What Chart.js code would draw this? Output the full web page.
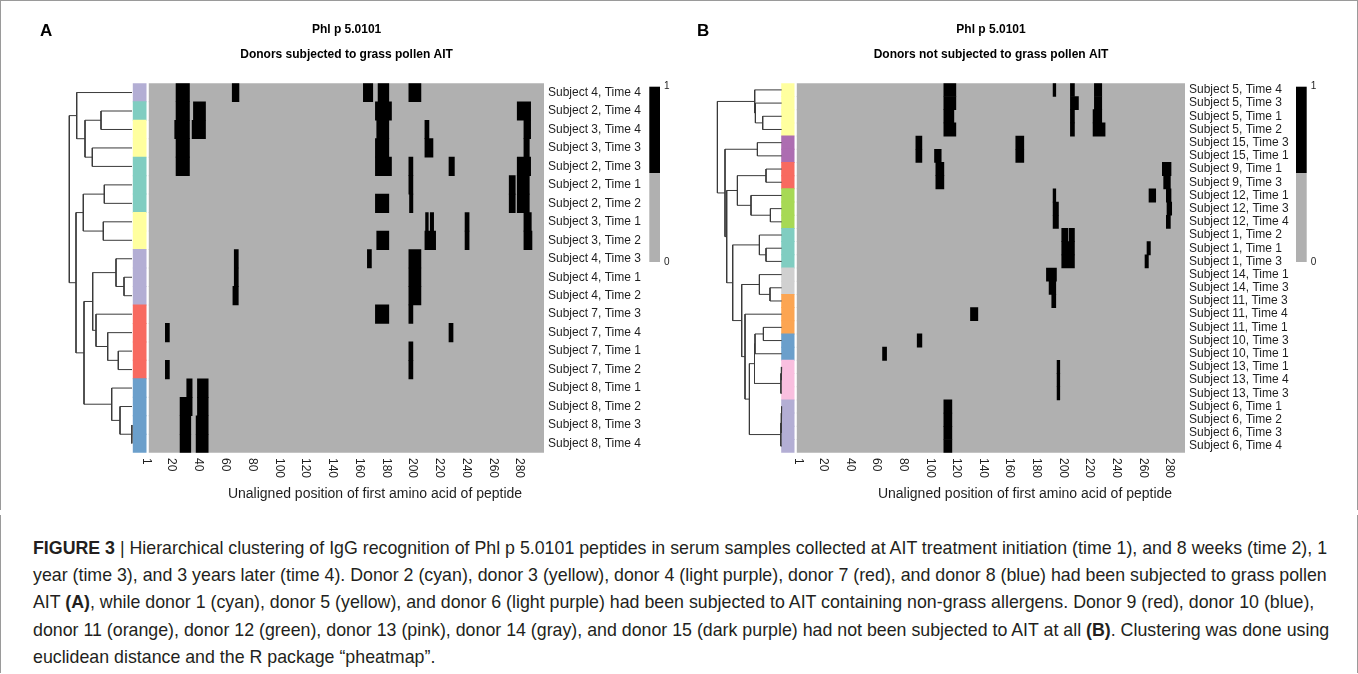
<!DOCTYPE html>
<html>
<head>
<meta charset="utf-8">
<script src="https://cdn.jsdelivr.net/npm/chart.js@4.4.1/dist/chart.umd.min.js"></script>
<style>
html,body{margin:0;padding:0;background:#fff;}
body{width:1358px;height:674px;position:relative;overflow:hidden;font-family:"Liberation Sans",Arial,Helvetica,sans-serif;}
canvas{position:absolute;top:0;}
#ca{left:0;}
#cb{left:679px;}
.frame{position:absolute;border:1px solid #9a9a9a;}
#caption{position:absolute;left:33px;top:535px;font-size:17.8px;line-height:27.2px;color:#231f20;white-space:nowrap;}
#caption b{font-weight:bold;}
</style>
</head>
<body>
<div class="frame" style="left:0;top:0;width:1356px;height:509px;border-bottom:none;"></div>
<div class="frame" style="left:0;top:515px;width:1356px;height:158px;border-top:none;border-bottom:none;"></div>
<canvas id="ca" width="679" height="512"></canvas>
<canvas id="cb" width="679" height="512"></canvas>
<div id="caption">
<div><b>FIGURE 3</b> | Hierarchical clustering of IgG recognition of Phl p 5.0101 peptides in serum samples collected at AIT treatment initiation (time 1), and 8 weeks (time 2), 1</div>
<div>year (time 3), and 3 years later (time 4). Donor 2 (cyan), donor 3 (yellow), donor 4 (light purple), donor 7 (red), and donor 8 (blue) had been subjected to grass pollen</div>
<div>AIT <b>(A)</b>, while donor 1 (cyan), donor 5 (yellow), and donor 6 (light purple) had been subjected to AIT containing non-grass allergens. Donor 9 (red), donor 10 (blue),</div>
<div>donor 11 (orange), donor 12 (green), donor 13 (pink), donor 14 (gray), and donor 15 (dark purple) had not been subjected to AIT at all <b>(B)</b>. Clustering was done using</div>
<div>euclidean distance and the R package “pheatmap”.</div>
</div>
<script>
// ---------------- data ----------------
const positionTicks = [1, 20, 40, 60, 80, 100, 120, 140, 160, 180, 200, 220, 240, 260, 280];
const legendLabels = ["1", "0"];

const donorColors = {
  1: "#80cdc1", 2: "#80cdc1", 3: "#ffff9f", 4: "#b3aed4", 5: "#ffff9f", 6: "#b3aed4",
  7: "#f86a60", 8: "#6b9fcb", 9: "#f86a60", 10: "#6b9fcb", 11: "#fca552", 12: "#a7d955",
  13: "#f9bfdf", 14: "#d0d0d0", 15: "#ad6db1"
};

// Panel A: donors subjected to grass pollen AIT
const aitRows = ["Subject 4, Time 4", "Subject 2, Time 4", "Subject 3, Time 4", "Subject 3, Time 3",
  "Subject 2, Time 3", "Subject 2, Time 1", "Subject 2, Time 2", "Subject 3, Time 1", "Subject 3, Time 2",
  "Subject 4, Time 3", "Subject 4, Time 1", "Subject 4, Time 2", "Subject 7, Time 3", "Subject 7, Time 4",
  "Subject 7, Time 1", "Subject 7, Time 2", "Subject 8, Time 1", "Subject 8, Time 2", "Subject 8, Time 3",
  "Subject 8, Time 4"];
const aitDonors = [4, 2, 3, 3, 2, 2, 2, 3, 3, 4, 4, 4, 7, 7, 7, 7, 8, 8, 8, 8];
const aitPeptideCount = 295;
// recognised peptides (value 1): [row, first position, last position]
const aitCells = [
  [0, 20.5, 30.5], [0, 62.5, 67.5], [0, 160.5, 167.5], [0, 171.5, 179.5], [0, 194.5, 203.5],
  [1, 20.5, 30.5], [1, 33.5, 42.5], [1, 169.5, 181.5], [1, 275.5, 285.5],
  [2, 19.5, 30.5], [2, 32.5, 42.5], [2, 170.5, 179.5], [2, 206.5, 209.5], [2, 280.5, 285.5],
  [3, 20.5, 30.5], [3, 169.5, 179.5], [3, 206.5, 212.5], [3, 280.5, 284.5],
  [4, 20.5, 30.5], [4, 169.5, 181.5], [4, 194.5, 197.5], [4, 224.5, 228.5], [4, 275.5, 285.5],
  [5, 194.5, 197.5], [5, 269.5, 274], [5, 275.5, 284.5],
  [6, 169.5, 179.5], [6, 195, 197.5], [6, 269.5, 274], [6, 275.5, 284.5],
  [7, 207, 209], [7, 210.5, 213], [7, 236.5, 239.5], [7, 280.5, 286],
  [8, 170.5, 179.5], [8, 206.5, 214.5], [8, 236.5, 239.5], [8, 280.5, 286.5],
  [9, 64, 67], [9, 163.5, 166.5], [9, 194.5, 203.5],
  [10, 64, 67], [10, 194.5, 203.5],
  [11, 63, 67], [11, 194.5, 203.5],
  [12, 169.5, 179.5], [12, 194.5, 197.5],
  [13, 12.5, 15.5], [13, 224.5, 227.5],
  [14, 194.5, 197.5],
  [15, 12.5, 15.5], [15, 194.5, 197.5],
  [16, 28.5, 32.5], [16, 36.5, 44.5],
  [17, 23.5, 32.5], [17, 36.5, 44.5],
  [18, 23.5, 31.5], [18, 35.5, 44.5],
  [19, 23.5, 31.5], [19, 35.5, 44.5]
];
// hclust-style merges: negative = leaf (row index + 1), positive = earlier merge; third = height
const aitMerges = [
  [-19, -20, 0.3], [-11, -12, 8], [-18, 1, 12], [-15, -16, 13.7], [-10, 2, 16],
  [-17, 3, 20.3], [-14, 4, 24.3], [-6, -7, 27.7], [-8, -9, 28.7], [-2, -3, 31],
  [-13, 7, 36], [5, 11, 39.3], [-4, -5, 39.7], [10, 13, 47], [12, 6, 48],
  [8, 9, 48.7], [-1, 14, 55.3], [16, 15, 56], [17, 18, 62.7]
];

// Panel B: donors not subjected to grass pollen AIT
const noAitRows = ["Subject 5, Time 4", "Subject 5, Time 3", "Subject 5, Time 1", "Subject 5, Time 2",
  "Subject 15, Time 3", "Subject 15, Time 1", "Subject 9, Time 1", "Subject 9, Time 3", "Subject 12, Time 1",
  "Subject 12, Time 3", "Subject 12, Time 4", "Subject 1, Time 2", "Subject 1, Time 1", "Subject 1, Time 3",
  "Subject 14, Time 1", "Subject 14, Time 3", "Subject 11, Time 3", "Subject 11, Time 4", "Subject 11, Time 1",
  "Subject 10, Time 3", "Subject 10, Time 1", "Subject 13, Time 1", "Subject 13, Time 4", "Subject 13, Time 3",
  "Subject 6, Time 1", "Subject 6, Time 2", "Subject 6, Time 3", "Subject 6, Time 4"];
const noAitDonors = [5, 5, 5, 5, 15, 15, 9, 9, 12, 12, 12, 1, 1, 1, 14, 14, 11, 11, 11, 10, 10, 13, 13, 13, 6, 6, 6, 6];
const noAitPeptideCount = 291;
const noAitCells = [
  [0, 110.5, 119.5], [0, 192.5, 194.5], [0, 205.5, 208.5], [0, 223.5, 229],
  [1, 110.5, 119.5], [1, 205.5, 211.5], [1, 223.5, 229],
  [2, 110.5, 118], [2, 205.5, 208.5], [2, 222.5, 229],
  [3, 110.5, 119.5], [3, 205.5, 208.5], [3, 222.5, 231.5],
  [4, 89.5, 94], [4, 164.5, 170.5],
  [5, 89.5, 94], [5, 103.5, 108.5], [5, 164.5, 170.5],
  [6, 104.5, 110.5], [6, 274.5, 281],
  [7, 104.5, 110.5], [7, 275.5, 280.5],
  [8, 192.5, 194.5], [8, 264.5, 269.5], [8, 277.5, 281],
  [9, 192.5, 196.5], [9, 278, 281.5],
  [10, 192.5, 196.5], [10, 277.5, 280.5],
  [11, 199, 203.5], [11, 204.5, 208.5],
  [12, 199, 208.5], [12, 263, 265.5],
  [13, 199, 208.5], [13, 261.5, 264],
  [14, 187.5, 195],
  [15, 189.5, 194.5],
  [16, 191.5, 194.5],
  [17, 130.5, 136],
  [19, 90.5, 94],
  [20, 64.5, 67.5],
  [21, 195.5, 197.5], [22, 195.5, 197.5], [23, 195.5, 197.5],
  [24, 110.5, 116.5], [25, 110.5, 116.5], [26, 110.5, 116.5], [27, 110.5, 116.5]
];
const noAitMerges = [
  [-25, -26, 0.3], [1, -27, 0.6], [2, -28, 0.9], [-22, -23, 0.5], [4, -24, 0.8],
  [-10, -11, 11.3], [-16, -17, 11.7], [-7, -8, 15.7], [-13, -14, 15.7], [-19, -20, 18.3],
  [-3, -4, 19], [-12, 9, 22.3], [-15, 7, 22.3], [-5, -6, 24.3], [-2, 11, 26.3],
  [10, -21, 26.7], [16, 5, 27.2], [-1, 15, 27], [-9, 6, 30.7], [17, 3, 32.3],
  [8, 19, 44.3], [-18, 20, 36.7], [13, 22, 40], [12, 23, 49], [21, 24, 55],
  [14, 25, 56.7], [18, 26, 64.3]
];

// ---------------- helpers ----------------
const FONT = '"Liberation Sans", Arial, Helvetica, sans-serif';

function dendrogramSegments(merges) {
  const ys = [], hs = [], pts = [];
  const node = r => r < 0 ? { y: -r - 1, h: 0 } : { y: ys[r - 1], h: hs[r - 1] };
  merges.forEach(([a, b, h], i) => {
    const A = node(a), B = node(b);
    pts.push({ x: A.h, y: A.y }, { x: h, y: A.y }, { x: h, y: B.y }, { x: B.h, y: B.y }, { x: null, y: null });
    ys[i] = (A.y + B.y) / 2;
    hs[i] = h;
  });
  return pts;
}

// linear scale range so that value v0 lands on pixel p0 with k px per unit, across area [L,R]
function rangeFor(p0, v0, k, L, R, reverse) {
  if (!reverse) {
    const min = v0 - (p0 - L) / k;
    return { min, max: min + (R - L) / k };
  }
  const min = v0 - (R - p0) / k;
  return { min, max: min + (R - L) / k };
}

function makePanel(canvasId, g, rows, donors, cells, merges, nPep) {
  const canvas = document.getElementById(canvasId);
  const W = canvas.width, H = canvas.height, off = g.canvasLeft;
  const L = g.areaLeft - off, R = g.heatRight - off, T = g.top, B = g.bottom;
  const heatK = (g.heatRight - g.heatLeft) / nPep;
  const xr = rangeFor(g.heatLeft - off, 0.5, heatK, L, R, false);
  const ar = rangeFor(g.annotLeft - off, 0, g.annotRight - g.annotLeft, L, R, false);
  const dr = rangeFor(g.leafX - off, 0, 1, L, R, true);

  const textPlugin = {
    id: 'panelText' + canvasId,
    afterDraw(chart) {
      const { ctx } = chart;
      const xs = chart.scales.x, ys = chart.scales.y;
      ctx.save();
      ctx.fillStyle = '#1e1e1e';
      // rotated position ticks
      ctx.font = '12px ' + FONT;
      positionTicks.forEach(t => {
        ctx.save();
        ctx.translate(xs.getPixelForValue(t) + g.tickOffset, g.tickTop);
        ctx.rotate(Math.PI / 2);
        ctx.textAlign = 'left';
        ctx.textBaseline = 'middle';
        ctx.fillText(String(t), 0, 0);
        ctx.restore();
      });
      // row labels
      ctx.textAlign = 'left';
      ctx.textBaseline = 'middle';
      rows.forEach((r, i) => ctx.fillText(r, R + g.rowGap, ys.getPixelForValue(i)));
      // axis title
      ctx.font = '14px ' + FONT;
      ctx.textAlign = 'center';
      ctx.fillText(g.xTitle, g.xTitleX - off, g.xTitleY);
      // titles
      ctx.fillStyle = '#000';
      ctx.font = 'bold 12px ' + FONT;
      ctx.fillText(g.title, g.titleX - off, g.titleY);
      ctx.fillText(g.subtitle, g.titleX - off, g.subtitleY);
      ctx.font = 'bold 17px ' + FONT;
      ctx.textAlign = 'left';
      ctx.fillText(g.letter, g.letterX - off, g.letterY);
      // legend
      const lx = g.legendX - off;
      ctx.fillStyle = '#000';
      ctx.fillRect(lx, g.legendTop, g.legendW, g.legendMid - g.legendTop);
      ctx.fillStyle = '#b0b0b0';
      ctx.fillRect(lx, g.legendMid, g.legendW, g.legendBottom - g.legendMid);
      ctx.fillStyle = '#1e1e1e';
      ctx.font = '10px ' + FONT;
      ctx.textAlign = 'left';
      ctx.fillText(legendLabels[0], lx + g.legendW + 4, g.legendTop);
      ctx.fillText(legendLabels[1], lx + g.legendW + 4, g.legendBottom);
      ctx.restore();
    }
  };

  const rowTicks = s => { s.ticks = rows.map((_, i) => ({ value: i })); };

  return new Chart(canvas.getContext('2d'), {
    type: 'bar',
    data: {
      datasets: [
        {
          type: 'line', label: 'dendrogram', data: dendrogramSegments(merges),
          xAxisID: 'xd', yAxisID: 'y', borderColor: '#3a3a3a', borderWidth: 1,
          pointRadius: 0, tension: 0, spanGaps: false, fill: false, order: 0
        },
        {
          label: 'donor', data: donors.map((d, i) => ({ y: i, x: [0, 1] })),
          backgroundColor: donors.map(d => donorColors[d]), xAxisID: 'xa', yAxisID: 'y',
          order: 3, inflateAmount: 0.5
        },
        {
          label: '0', data: rows.map((_, i) => ({ y: i, x: [0.5, nPep + 0.5] })),
          backgroundColor: '#b0b0b0', xAxisID: 'x', yAxisID: 'y', order: 2, inflateAmount: 0.5
        },
        {
          label: '1', data: cells.map(([r, s, e]) => ({ y: r, x: [s, e] })),
          backgroundColor: '#000000', xAxisID: 'x', yAxisID: 'y', order: 1, inflateAmount: 0.35
        }
      ]
    },
    options: {
      indexAxis: 'y',
      responsive: false,
      animation: false,
      events: [],
      layout: { padding: { left: L, right: W - R, top: T, bottom: H - B }, autoPadding: false },
      plugins: { legend: { display: false }, tooltip: { enabled: false }, title: { display: false } },
      datasets: { bar: { grouped: false, barPercentage: 1, categoryPercentage: 1, borderWidth: 0 } },
      scales: {
        y: { type: 'linear', offset: false, min: -0.5, max: rows.length - 0.5, reverse: true, display: false, afterBuildTicks: rowTicks },
        x: { type: 'linear', offset: false, min: xr.min, max: xr.max, display: false },
        xa: { type: 'linear', offset: false, min: ar.min, max: ar.max, display: false },
        xd: { type: 'linear', offset: false, min: dr.min, max: dr.max, reverse: true, display: false }
      }
    },
    plugins: [textPlugin]
  });
}

const geomA = {
  canvasLeft: 0, areaLeft: 60, top: 83.3, bottom: 452.7,
  leafX: 132, annotLeft: 133.3, annotRight: 146, heatLeft: 149.3, heatRight: 544,
  tickTop: 458, tickOffset: -3.6, rowGap: 4,
  xTitle: 'Unaligned position of first amino acid of peptide', xTitleX: 375, xTitleY: 494,
  title: 'Phl p 5.0101', subtitle: 'Donors subjected to grass pollen AIT', titleX: 346.6, titleY: 30, subtitleY: 55,
  letter: 'A', letterX: 40, letterY: 31,
  legendX: 649.3, legendW: 10.7, legendTop: 86.7, legendMid: 173, legendBottom: 262
};
const geomB = {
  canvasLeft: 679, areaLeft: 705, top: 83.3, bottom: 452.7,
  leafX: 781.7, annotLeft: 781.7, annotRight: 794, heatLeft: 797.3, heatRight: 1185,
  tickTop: 458, tickOffset: 0, rowGap: 4,
  xTitle: 'Unaligned position of first amino acid of peptide', xTitleX: 1025, xTitleY: 494,
  title: 'Phl p 5.0101', subtitle: 'Donors not subjected to grass pollen AIT', titleX: 991, titleY: 30, subtitleY: 55,
  letter: 'B', letterX: 697, letterY: 31,
  legendX: 1296, legendW: 10.7, legendTop: 86.7, legendMid: 173, legendBottom: 262
};

makePanel('ca', geomA, aitRows, aitDonors, aitCells, aitMerges, aitPeptideCount);
makePanel('cb', geomB, noAitRows, noAitDonors, noAitCells, noAitMerges, noAitPeptideCount);
</script>
</body>
</html>
